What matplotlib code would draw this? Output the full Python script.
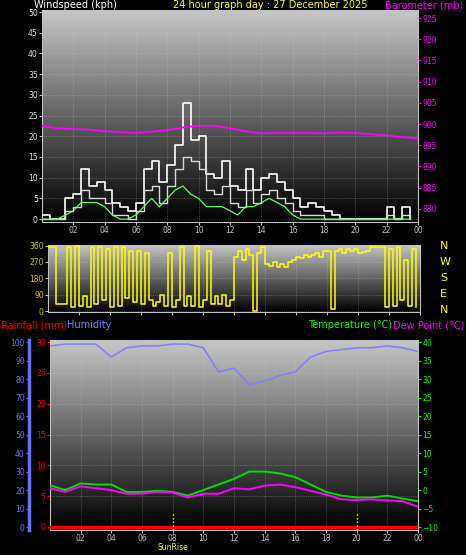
import numpy as np
import matplotlib
matplotlib.use("Agg")
import matplotlib.pyplot as plt

# ---- data ----
hours_half = np.arange(0, 24, 0.5)
gust = [1, 0, 0, 5, 6, 12, 8, 9, 7, 4, 3, 2, 4, 12, 14, 9, 13, 18, 28, 19, 20, 11, 10, 14,
        8, 7, 12, 7, 10, 11, 9, 7, 5, 3, 4, 3, 2, 1, 0, 0, 0, 0, 0, 0, 3, 0, 3, 0]
wind_avg = [0, 0, 0, 2, 3, 7, 5, 5, 4, 1, 1, 0, 2, 7, 8, 4, 8, 12, 15, 14, 12, 7, 6, 8,
            4, 3, 7, 4, 6, 7, 5, 4, 2, 1, 1, 1, 0, 0, 0, 0, 0, 0, 0, 0, 1, 0, 1, 0]
wind_green = [0, 0, 0, 1, 2, 4, 4, 4, 3, 1, 0, 0, 1, 3, 5, 3, 5, 7, 8, 6, 5, 3, 3, 3,
              2, 1, 3, 3, 4, 5, 4, 3, 1, 0, 0, 0, 0, 0, 0, 0, 0, 0, 0, 0, 0, 0, 0, 0]

hours = np.arange(0, 25)
pressure = [899.5, 899.0, 898.8, 898.7, 898.3, 898.1, 897.9, 898.2, 898.6, 899.2, 899.6, 899.6,
            899.0, 898.3, 897.8, 897.9, 897.9, 897.9, 897.8, 898.0, 897.9, 897.6, 897.3, 896.9, 896.6]

hours_q = np.arange(0, 24, 0.25)
direction = [350, 350, 40, 40, 40, 350, 20, 360, 30, 80, 20, 350, 40, 350, 60, 340,
             20, 350, 30, 350, 70, 330, 50, 330, 40, 320, 60, 30, 50, 90, 30, 320,
             20, 60, 350, 30, 80, 30, 360, 20, 60, 330, 40, 80, 40, 90, 30, 60,
             300, 330, 280, 340, 310, 0, 320, 350, 260, 250, 270, 245, 260, 240, 270, 280,
             300, 290, 310, 300, 310, 320, 300, 330, 330, 10, 330, 340, 320, 340, 330, 340,
             320, 325, 330, 350, 350, 350, 350, 20, 340, 30, 350, 60, 280, 30, 340, 20]

humidity = [98, 99, 99, 99, 92, 97, 98, 98, 99, 99, 97, 84, 86, 77, 79, 82, 84, 92, 95, 96,
            97, 97, 98, 97, 95]
temperature = [1.3, 0, 1.8, 1.5, 1.5, -0.5, -0.5, -0.2, -0.5, -1.5, 0, 1.5, 3, 5, 5, 4.5,
               3.5, 1.5, -0.5, -1.5, -2, -2, -1.5, -2.3, -3]
dew_point = [0.5, -0.5, 1, 0.5, 0, -1, -1, -0.5, -0.7, -2, -1, -1, 0.5, 0.2, 1.2, 1.5,
             0.8, -0.2, -1.2, -2.5, -2.7, -2.5, -2.8, -3, -4.5]
rainfall = [0] * 25

tick_hours = np.arange(2, 25, 2)
tick_labels = ["%02d" % (h % 24) for h in tick_hours]

YEL = "#ffff00"
MAG = "#ff00ff"
FS = 7

fig = plt.figure(figsize=(4.66, 5.55), dpi=100, facecolor="black")
grad = np.linspace(0.78, 0.0, 256).reshape(-1, 1)


def panel(rect):
    ax = fig.add_axes(rect)
    ax.imshow(grad, cmap="gray", vmin=0, vmax=1, aspect="auto",
              extent=[0, 1, 0, 1], transform=ax.transAxes, zorder=0)
    for s in ax.spines.values():
        s.set_color("#c0c0c0")
    ax.set_xlim(0, 24)
    ax.set_xticks(tick_hours)
    ax.set_xticklabels(tick_labels, color=YEL, fontsize=5.5)
    ax.tick_params(colors="#c0c0c0", length=2, labelsize=5.5, pad=1)
    ax.grid(True, color="#d0d0d0", linestyle=":", linewidth=0.5, alpha=0.5)
    return ax


# ---- wind speed panel ----
ax1 = panel([0.090, 0.600, 0.807, 0.382])
ax1.step(hours_half, gust, where="post", color="white", lw=1.2, zorder=3)
ax1.step(hours_half, wind_avg, where="post", color="#d8d8d8", lw=1.0, zorder=3)
ax1.plot(hours_half, wind_green, color="#60ff60", lw=0.9, zorder=4)
ax1.set_ylim(-0.7, 50.5)
ax1.set_yticks(range(0, 51, 5))
ax1.tick_params(axis="y", labelcolor="#e0e0e0")
ax1b = ax1.twinx()
ax1b.plot(hours, pressure, color=MAG, lw=1.3)
ax1b.set_ylim(876.9, 926.9)
ax1b.set_yticks(range(880, 926, 5))
ax1b.tick_params(axis="y", colors=MAG, length=2, labelsize=5.5, pad=1)
for s in ax1b.spines.values():
    s.set_visible(False)

fig.text(34 / 466, 1 - 0 / 555, "Windspeed (kph)", color="white", fontsize=FS, va="top")
fig.text(270 / 466, 1 - 0 / 555, "24 hour graph day : 27 December 2025", color=YEL,
         fontsize=FS, va="top", ha="center")
fig.text(463 / 466, 1 - 0 / 555, "Barometer (mb)", color=MAG, fontsize=FS, va="top", ha="right")

# ---- wind direction panel ----
ax2 = panel([0.103, 0.438, 0.798, 0.121])
ax2.step(hours_q, direction, where="post", color=YEL, lw=1.1, zorder=3)
ax2.set_ylim(-5, 365)
ax2.set_yticks([0, 90, 180, 270, 360])
ax2.tick_params(axis="y", labelcolor="#c8c800")
ax2.set_xticklabels([])
for i, lab in enumerate(["N", "W", "S", "E", "N"]):
    fig.text(440 / 466, 1 - (246 + i * 16) / 555, lab, color=YEL, fontsize=8, va="center")

# ---- temperature / humidity panel ----
ax3 = panel([0.107, 0.045, 0.790, 0.342])
ax3.set_ylim(-0.5, 30.3)
ax3.set_yticks(range(0, 31, 5))
ax3.tick_params(axis="y", labelcolor="red", colors="red")
ax3.plot(hours, rainfall, color="red", lw=2.5, zorder=4)
for h in [8, 20]:
    ax3.plot([h, h], [-0.5, 2.5], color=YEL, ls=":", lw=1, zorder=4)
ax3.text(8, -2.6, "SunRise", color=YEL, fontsize=5.5, ha="center", va="top")

axh = ax3.twinx()
axh.yaxis.set_ticks_position("left")
axh.spines["left"].set_position(("outward", 15))
axh.spines["left"].set_color("#6f6fff")
axh.spines["left"].set_linewidth(2.5)
for k in ["right", "top", "bottom"]:
    axh.spines[k].set_visible(False)
axh.set_ylim(-1.6, 101.1)
axh.set_yticks(range(0, 101, 10))
axh.tick_params(axis="y", colors="#6f6fff", length=2, labelsize=5.5, pad=1)
axh.plot(hours, humidity, color="#8080ff", lw=1.1)

axt = ax3.twinx()
for s in axt.spines.values():
    s.set_visible(False)
axt.set_ylim(-10.8, 40.5)
axt.set_yticks(range(-10, 41, 5))
axt.tick_params(axis="y", colors="#00ff00", length=2, labelsize=5.5, pad=1)
axt.plot(hours, temperature, color="#00e000", lw=1.4)
axt.plot(hours, dew_point, color=MAG, lw=1.4)

fig.text(1 / 466, 1 - 320 / 555, "Rainfall (mm)", color="red", fontsize=FS, va="top")
fig.text(67 / 466, 1 - 320 / 555, "Humidity", color="#8080ff", fontsize=FS, va="top")
fig.text(392 / 466, 1 - 320 / 555, "Temperature (°C)", color="#00ff00", fontsize=FS,
         va="top", ha="right")
fig.text(464 / 466, 1 - 320 / 555, "Dew Point (°C)", color=MAG, fontsize=FS,
         va="top", ha="right")

fig.savefig("out.png", dpi=100, facecolor="black")
